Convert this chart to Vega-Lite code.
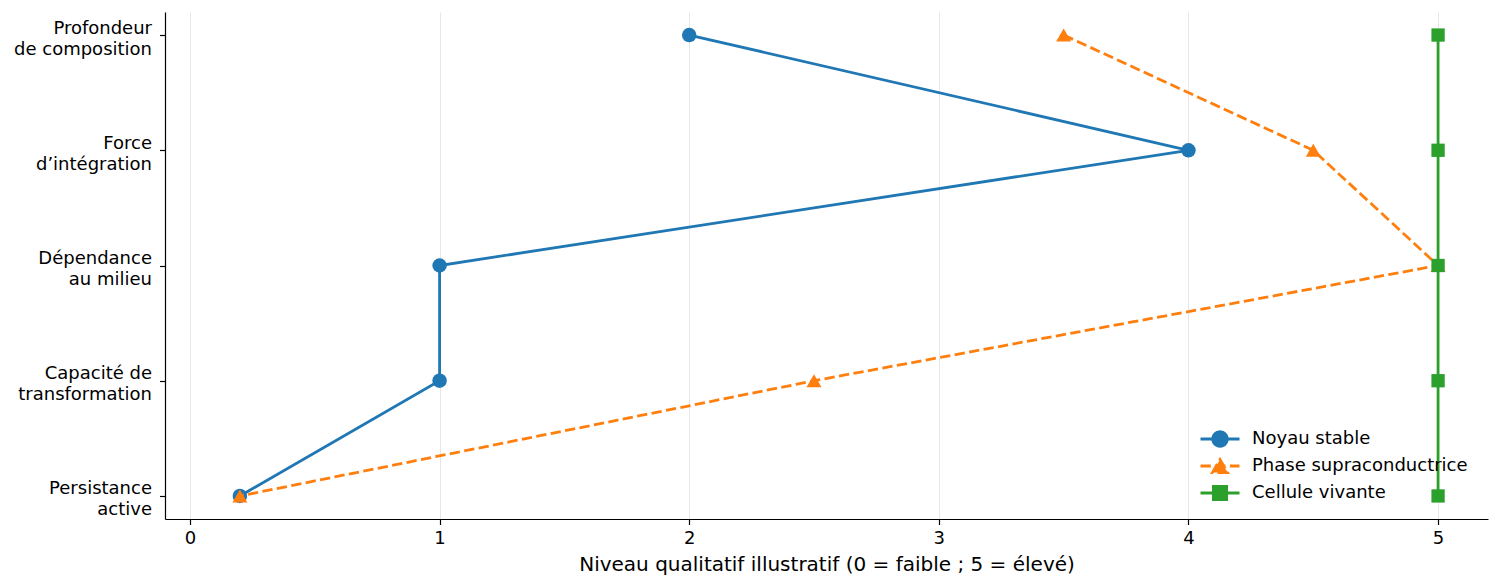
{
  "$schema": "https://vega.github.io/schema/vega-lite/v6.json",
  "width": 1323,
  "height": 507,
  "autosize": {"type": "none"},
  "padding": {"left": 165, "top": 12, "right": 12, "bottom": 68},
  "background": "white",
  "config": {
    "view": {"stroke": null},
    "font": "DejaVu Sans",
    "axis": {
      "domainColor": "black",
      "domainWidth": 1.2,
      "tickColor": "black",
      "tickWidth": 1.2,
      "tickSize": 5.5,
      "labelFont": "DejaVu Sans",
      "labelFontSize": 18,
      "labelColor": "black",
      "titleFont": "DejaVu Sans",
      "titleFontSize": 20,
      "titleFontWeight": "normal",
      "titleColor": "black"
    }
  },
  "data": {
    "values": [
      {"serie": "Noyau stable", "critere": "Profondeur de composition", "rang": 0, "niveau": 2},
      {"serie": "Noyau stable", "critere": "Force d’intégration", "rang": 1, "niveau": 4},
      {"serie": "Noyau stable", "critere": "Dépendance au milieu", "rang": 2, "niveau": 1},
      {"serie": "Noyau stable", "critere": "Capacité de transformation", "rang": 3, "niveau": 1},
      {"serie": "Noyau stable", "critere": "Persistance active", "rang": 4, "niveau": 0.2},
      {"serie": "Phase supraconductrice", "critere": "Profondeur de composition", "rang": 0, "niveau": 3.5},
      {"serie": "Phase supraconductrice", "critere": "Force d’intégration", "rang": 1, "niveau": 4.5},
      {"serie": "Phase supraconductrice", "critere": "Dépendance au milieu", "rang": 2, "niveau": 5},
      {"serie": "Phase supraconductrice", "critere": "Capacité de transformation", "rang": 3, "niveau": 2.5},
      {"serie": "Phase supraconductrice", "critere": "Persistance active", "rang": 4, "niveau": 0.2},
      {"serie": "Cellule vivante", "critere": "Profondeur de composition", "rang": 0, "niveau": 5},
      {"serie": "Cellule vivante", "critere": "Force d’intégration", "rang": 1, "niveau": 5},
      {"serie": "Cellule vivante", "critere": "Dépendance au milieu", "rang": 2, "niveau": 5},
      {"serie": "Cellule vivante", "critere": "Capacité de transformation", "rang": 3, "niveau": 5},
      {"serie": "Cellule vivante", "critere": "Persistance active", "rang": 4, "niveau": 5}
    ]
  },
  "encoding": {
    "x": {
      "field": "niveau",
      "type": "quantitative",
      "scale": {"domain": [-0.1, 5.2], "nice": false, "zero": false},
      "axis": {
        "values": [0, 1, 2, 3, 4, 5],
        "format": "d",
        "title": "Niveau qualitatif illustratif (0 = faible ; 5 = élevé)",
        "grid": true,
        "gridColor": "#e6e6e6",
        "gridWidth": 1,
        "labelPadding": 5,
        "titlePadding": 7
      }
    },
    "y": {
      "field": "critere",
      "type": "nominal",
      "sort": ["Profondeur de composition", "Force d’intégration", "Dépendance au milieu", "Capacité de transformation", "Persistance active"],
      "scale": {"type": "point", "padding": 0.2},
      "axis": {
        "title": null,
        "grid": false,
        "labelAlign": "right",
        "labelBaseline": "middle",
        "labelPadding": 8,
        "labelOffset": -7,
        "labelLineHeight": 21,
        "labelExpr": "datum.label == 'Profondeur de composition' ? ['Profondeur', 'de composition'] : datum.label == 'Force d’intégration' ? ['Force', 'd’intégration'] : datum.label == 'Dépendance au milieu' ? ['Dépendance', 'au milieu'] : datum.label == 'Capacité de transformation' ? ['Capacité de', 'transformation'] : ['Persistance', 'active']"
      }
    },
    "color": {
      "field": "serie",
      "type": "nominal",
      "scale": {
        "domain": ["Noyau stable", "Phase supraconductrice", "Cellule vivante"],
        "range": ["#1f77b4", "#ff7f0e", "#2ca02c"]
      },
      "legend": {
        "title": null,
        "orient": "none",
        "legendX": 1046,
        "legendY": 418,
        "padding": 0,
        "labelFont": "DejaVu Sans",
        "labelFontSize": 18,
        "labelColor": "black",
        "labelLimit": 400,
        "symbolSize": 144,
        "labelOffset": 23,
        "rowPadding": 1,
        "encode": {
          "symbols": {
            "update": {
              "shape": {"signal": "datum.value == 'Noyau stable' ? 'M-3.25,0L3.25,0M1.21,0A1.21,1.21,0,1,1,-1.21,0A1.21,1.21,0,1,1,1.21,0Z' : datum.value == 'Phase supraconductrice' ? 'M-3.25,0L3.25,0M0,-1.08L1.25,1.08L-1.25,1.08Z' : 'M-3.25,0L3.25,0M-1.1,-1.1L1.1,-1.1L1.1,1.1L-1.1,1.1Z'"},
              "fill": {"signal": "scale('color', datum.value)"},
              "stroke": {"signal": "scale('color', datum.value)"},
              "strokeWidth": {"value": 2.8},
              "strokeDash": {"signal": "datum.value == 'Phase supraconductrice' ? [10.3, 4.4] : [1, 0]"},
              "opacity": {"value": 1},
              "fillOpacity": {"value": 1}
            }
          }
        }
      }
    }
  },
  "layer": [
    {
      "transform": [{"filter": "datum.serie == 'Noyau stable'"}],
      "mark": {"type": "line", "strokeWidth": 2.8, "point": {"filled": true, "shape": "circle", "size": 210, "opacity": 1}},
      "encoding": {"order": {"field": "rang", "type": "quantitative"}}
    },
    {
      "transform": [{"filter": "datum.serie == 'Phase supraconductrice'"}],
      "mark": {"type": "line", "strokeWidth": 2.8, "strokeDash": [10.3, 4.4], "point": {"filled": true, "shape": "triangle-up", "size": 225, "opacity": 1}},
      "encoding": {"order": {"field": "rang", "type": "quantitative"}}
    },
    {
      "transform": [{"filter": "datum.serie == 'Cellule vivante'"}],
      "mark": {"type": "line", "strokeWidth": 2.8, "point": {"filled": true, "shape": "square", "size": 177, "opacity": 1}},
      "encoding": {"order": {"field": "rang", "type": "quantitative"}}
    }
  ]
}
